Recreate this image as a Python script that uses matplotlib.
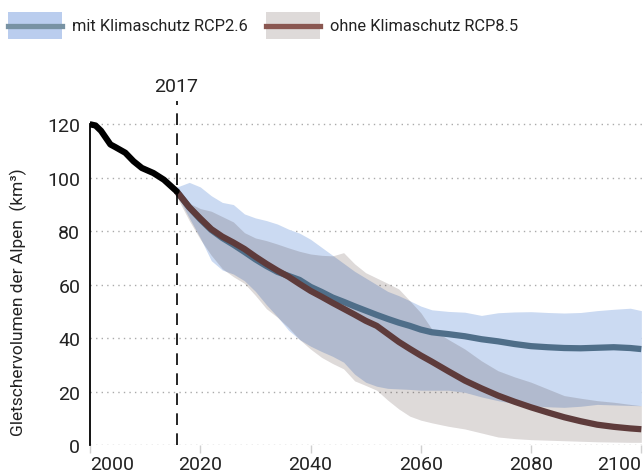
import matplotlib
matplotlib.use('Agg')
import matplotlib.pyplot as plt
from matplotlib.patches import Rectangle
from matplotlib.lines import Line2D

plt.rcParams['font.family'] = ['Roboto', 'DejaVu Sans']

# Messdaten bis 2017
hist_years = [2000.1, 2001, 2002, 2003.7, 2004.6, 2006.4, 2007.9, 2009.4, 2011.5, 2013.4, 2015.7]
hist_vol = [120, 119.6, 117.6, 112.5, 111.5, 109.4, 106.2, 103.7, 101.8, 99.3, 95]

# Projektionen
fut_years = [2015.7, 2018, 2020, 2022, 2024, 2026, 2028, 2030, 2032, 2034, 2036, 2038,
             2040, 2042, 2044, 2046, 2048, 2050, 2052, 2054, 2056, 2058, 2060, 2062,
             2065, 2068, 2071, 2074, 2077, 2080, 2083, 2086, 2089, 2092, 2095, 2098, 2100]

rcp26_med = [95, 89, 84.5, 80.5, 77.5, 75, 72.3, 69.5, 67, 64.8, 63.3, 61.8,
             59.2, 57.3, 55.2, 53.6, 51.9, 50.3, 48.7, 47.2, 45.8, 44.6, 43.2, 42.2,
             41.5, 40.7, 39.6, 38.8, 37.8, 37, 36.6, 36.3, 36.2, 36.4, 36.6, 36.3, 35.9]
rcp26_hi = [96.5, 98.3, 96.6, 93.3, 90.8, 90, 86.5, 85, 84, 82.7, 80.8, 79.3,
            77, 74, 71, 68, 65, 62.5, 60, 57.5, 55.9, 54, 52, 50.6,
            50, 49.7, 48.5, 49.5, 49.8, 49.9, 49.6, 49.4, 49.6, 50.3, 50.8, 51.2, 50.3]
rcp26_lo = [94, 85, 77.5, 69, 65.5, 64, 61.5, 57.5, 52.5, 48, 43, 39.5,
            37, 35, 33.2, 31, 26.5, 23.5, 22, 21.2, 21, 20.8, 20.5, 20.5,
            20.5, 19.7, 18, 16.6, 15.5, 14.7, 14.3, 14.1, 14.5, 15.2, 15, 14.8, 14.7]

rcp85_med = [95, 89, 84.8, 80.8, 78, 75.8, 73.4, 70.5, 67.8, 65.3, 63, 60.3,
             57.7, 55.5, 53.2, 51, 48.8, 46.5, 44.6, 41.6, 38.6, 36, 33.5, 31.2,
             27.6, 24.1, 21.2, 18.5, 16.2, 14.1, 12.2, 10.4, 8.9, 7.6, 6.8, 6.2, 5.9]
rcp85_hi = [95.5, 90.5, 88.5, 87.5, 85.5, 83.5, 79.5, 77.5, 76.5, 75.2, 73.8, 72.5,
            71.5, 71, 70.8, 72, 67.8, 64.5, 62.5, 60.5, 58.4, 54, 49.5, 43.4,
            39.5, 35.9, 31.5, 27.8, 25.5, 23.5, 21, 18.5, 17.5, 16.6, 16, 15.2, 14.7]
rcp85_lo = [93, 84, 77, 71, 66, 63, 60.5, 56, 51, 47.8, 44, 39.5,
            35.9, 32.8, 30.5, 28.5, 24, 22.3, 20.5, 16.8, 13.5, 10.8, 9.3, 8.3,
            7, 6, 4.5, 3, 2.4, 2, 1.8, 1.6, 1.4, 1.2, 1.1, 1, 1]

year_ticks = [2000, 2020, 2040, 2060, 2080, 2100]
vol_ticks = [0, 20, 40, 60, 80, 100, 120]

blue_band = '#cbdaf2'
blue_line = '#4f6e89'
brown_band = (35 / 255, 8 / 255, 2 / 255, 0.15)
brown_line = '#5e3b3b'
text_col = '#222222'

fig = plt.figure(figsize=(6.44, 4.77), dpi=100)
ax = fig.add_axes([90 / 644, 1 - 446 / 477, 553 / 644, 347.3 / 477])

ax.fill_between(fut_years, rcp26_lo, rcp26_hi, color=blue_band, lw=0, zorder=1)
ax.fill_between(fut_years, rcp85_lo, rcp85_hi, color=brown_band, lw=0, zorder=2)
ax.plot(fut_years, rcp26_med, color=blue_line, lw=4.5, solid_capstyle='butt', zorder=3)
ax.plot(fut_years, rcp85_med, color=brown_line, lw=4.5, solid_capstyle='butt', zorder=4)
ax.plot(hist_years, hist_vol, color='black', lw=4.5, solid_capstyle='round', zorder=5)

ax.axvline(2015.7, ymax=0.99, color='black', lw=1.2, dashes=(7, 5), zorder=6)
ax.text(2015.7, 1.035, '2017', transform=ax.get_xaxis_transform(),
        ha='center', va='center', fontsize=14, color=text_col)

ax.set_xlim(2000, 2100.3)
ax.set_ylim(0, 130)
ax.set_xticks(year_ticks)
ax.set_yticks(vol_ticks)
ax.grid(axis='y', color='#aaaaaa', linestyle=(0, (1, 3)), lw=1)
ax.set_axisbelow(True)
for s in ['top', 'right', 'bottom']:
    ax.spines[s].set_visible(False)
ax.spines['left'].set_bounds(0, 120)
ax.spines['left'].set_linewidth(1.3)
ax.tick_params(axis='y', length=0, pad=7, labelsize=14, labelcolor=text_col)
ax.tick_params(axis='x', length=6, width=1, color='#d0d0d0', pad=1,
               labelsize=14, labelcolor=text_col)
xlabels = ax.get_xticklabels()
xlabels[0].set_horizontalalignment('left')
xlabels[-1].set_horizontalalignment('right')

fig.text(18 / 644, 1 - 302 / 477, 'Gletschervolumen der Alpen  (km³)', rotation=90,
         ha='center', va='center', fontsize=12.5, color=text_col)

# Legende
def legend_item(x0, patch_col, line_col, label):
    fig.add_artist(Rectangle((x0 / 644, 1 - 40 / 477), 54 / 644, 27 / 477,
                             transform=fig.transFigure, color=patch_col, lw=0))
    fig.add_artist(Line2D([x0 / 644, (x0 + 54) / 644], [1 - 26.5 / 477] * 2,
                          transform=fig.transFigure, color=line_col, lw=3.8))
    fig.text((x0 + 64) / 644, 1 - 26.5 / 477, label, ha='left', va='center',
             fontsize=11.8, color=text_col)

legend_item(8, '#bacdee', '#7892a3', 'mit Klimaschutz RCP2.6')
legend_item(266, '#dedad9', '#8a5751', 'ohne Klimaschutz RCP8.5')

fig.savefig('out.png', dpi=100)
